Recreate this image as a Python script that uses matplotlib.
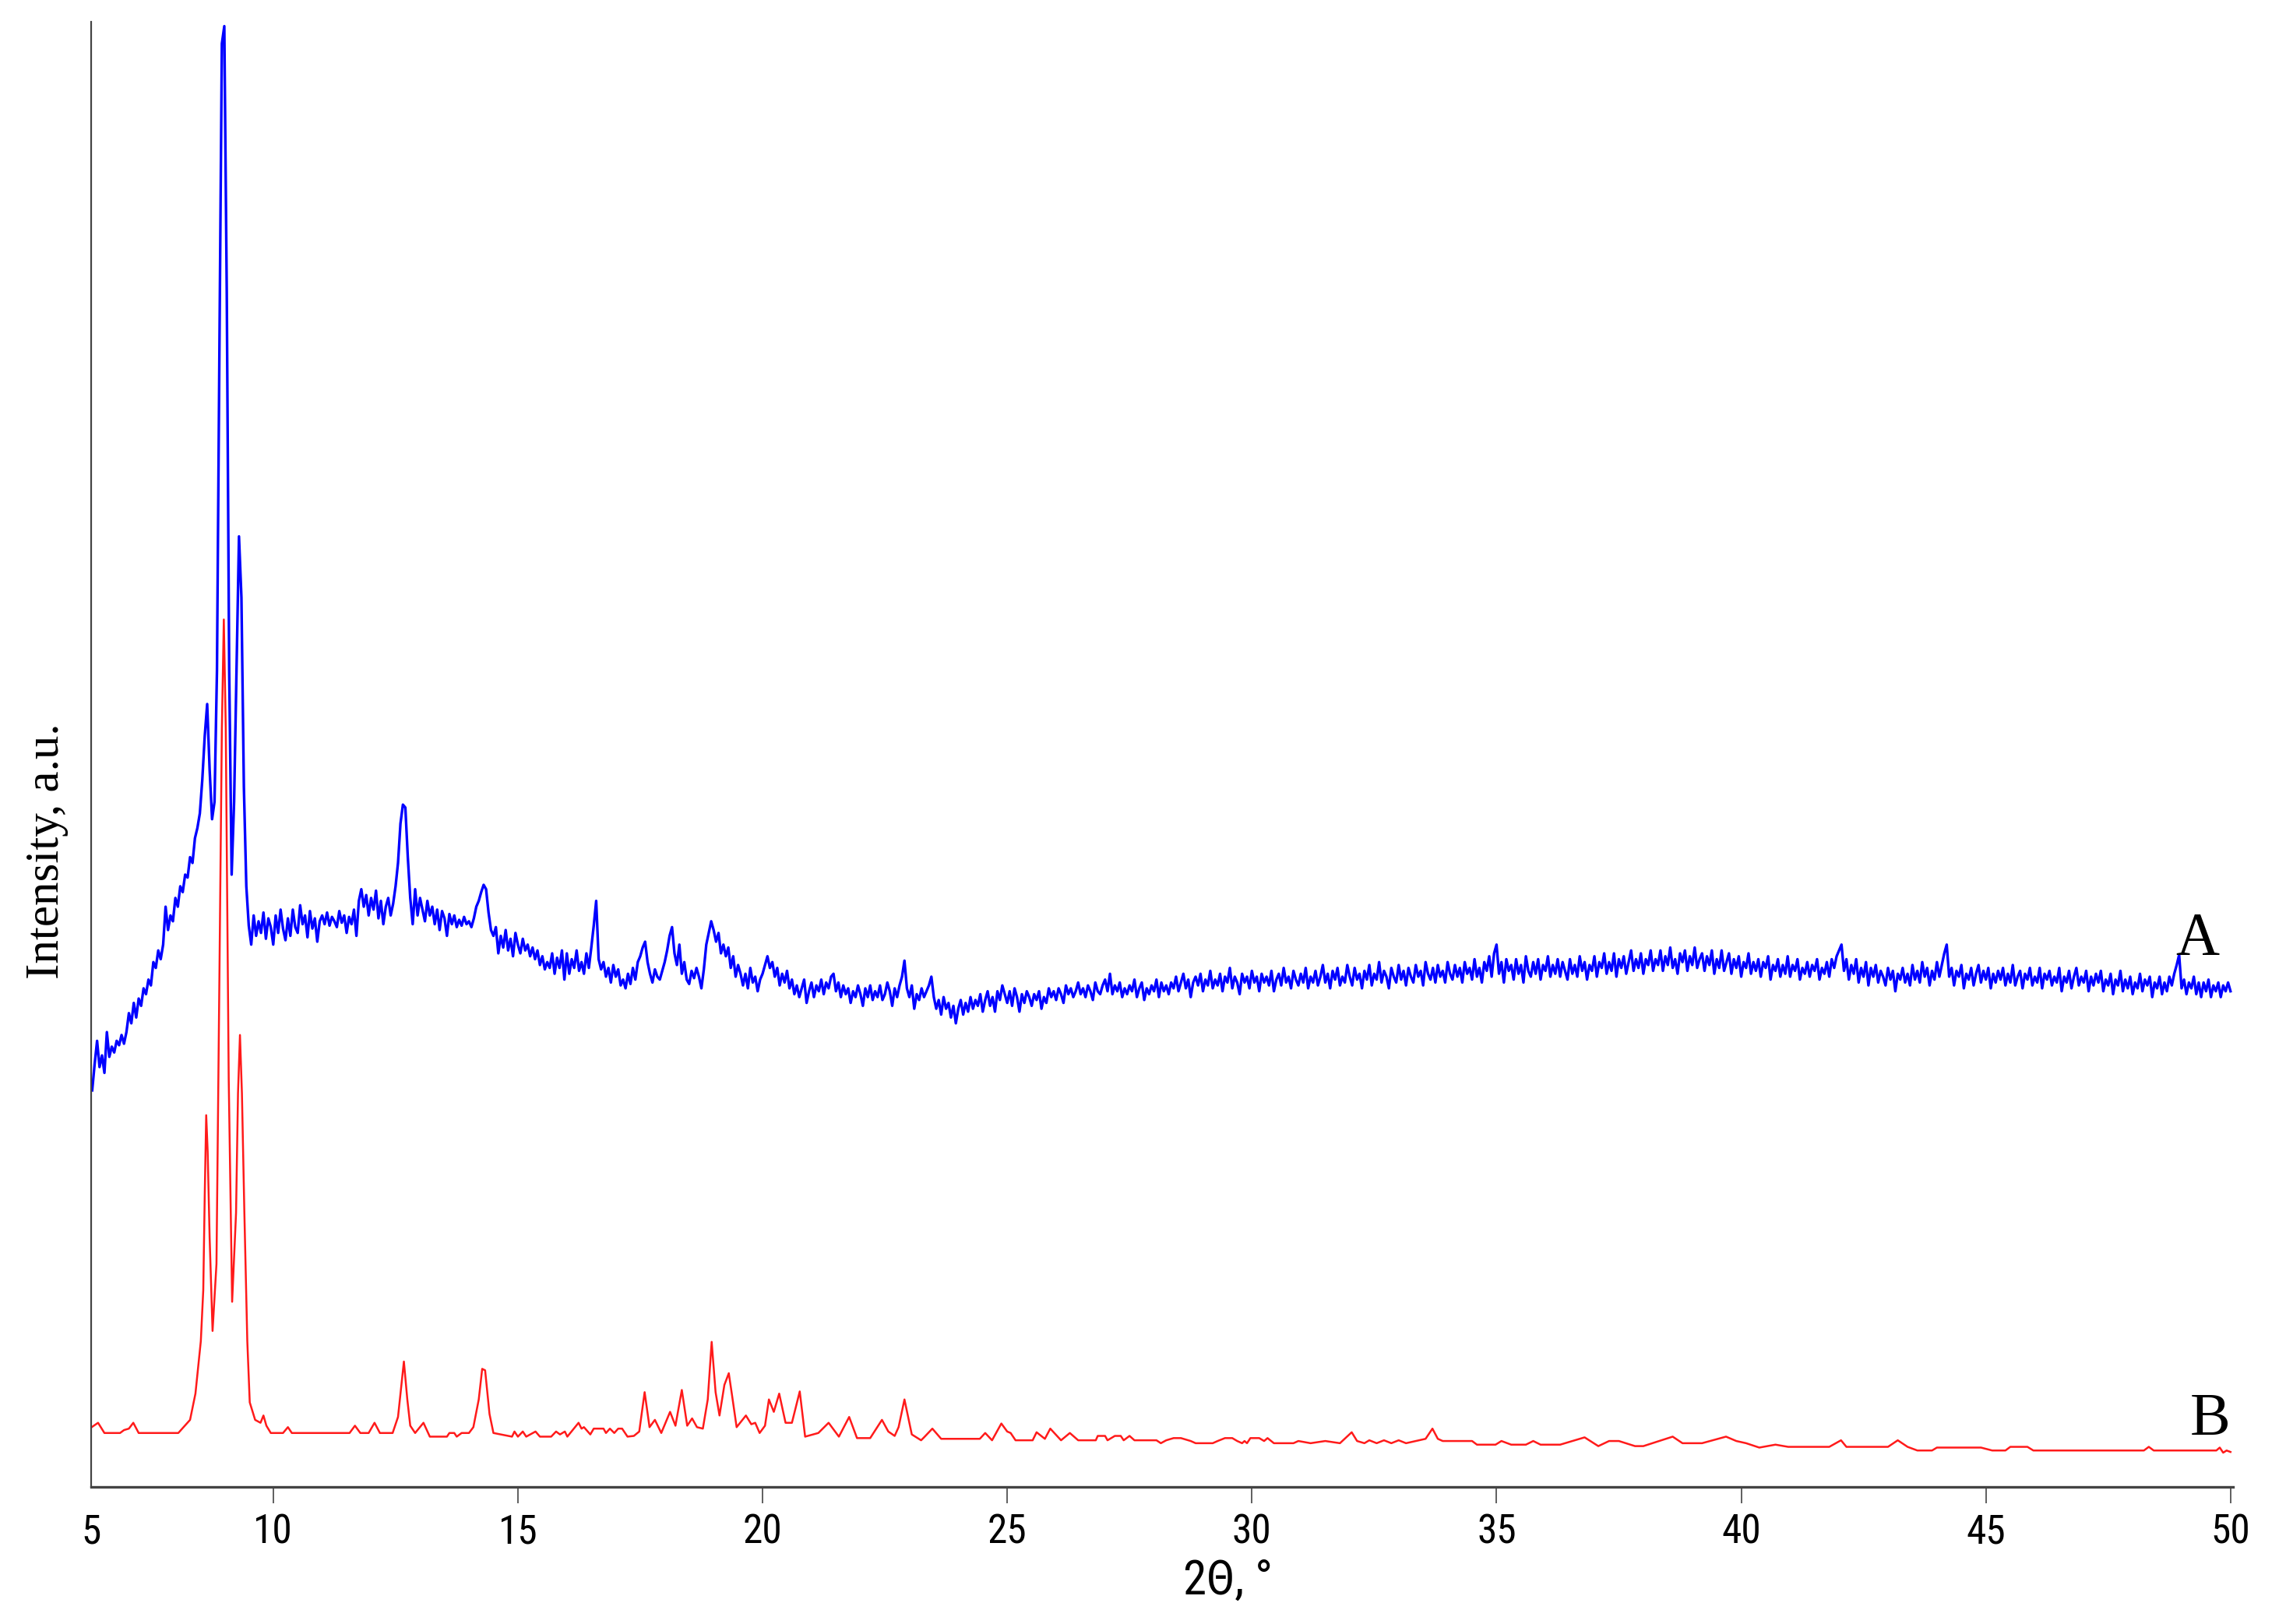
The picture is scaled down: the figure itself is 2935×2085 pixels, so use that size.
import matplotlib
matplotlib.use("Agg")
import matplotlib.pyplot as plt
from matplotlib import font_manager
import numpy as np

# pattern A (measured), sampled every 0.05 deg from 6.30 deg
blue_start = 6.30
blue_step = 0.05
blue_y = [
    272, 290, 306, 288, 296, 284, 312, 295, 302, 298, 306, 303, 310, 304, 312, 325, 318, 332, 322, 335,
    330, 342, 338, 348, 344, 360, 356, 368, 362, 372, 398, 382, 392, 388, 404, 398, 412, 408, 420, 418,
    432, 428, 445, 452, 462, 485, 515, 537, 492, 458, 470, 560, 780, 990, 1002, 820, 560, 420, 470, 560,
    652, 610, 480, 412, 385, 372, 392, 378, 388, 380, 394, 376, 390, 384, 372, 392, 380, 396, 383, 375,
    390, 378, 396, 384, 380, 399, 386, 392, 377, 395, 383, 390, 374, 388, 392, 386, 394, 385, 391, 388,
    384, 395, 387, 392, 380, 391, 386, 396, 378, 402, 410, 398, 406, 392, 404, 396, 409, 390, 402, 386,
    398, 404, 392, 400, 412, 428, 455, 468, 466, 432, 404, 386, 410, 392, 404, 396, 388, 402, 392, 398,
    386, 396, 382, 395, 390, 378, 393, 386, 392, 384, 389, 385, 391, 386, 388, 384, 390, 398, 402, 408,
    413, 410, 394, 382, 378, 384, 366, 378, 370, 382, 368, 376, 364, 380, 372, 366, 376, 368, 372, 364,
    370, 362, 368, 358, 364, 355, 360, 356, 366, 352, 363, 356, 368, 348, 366, 352, 362, 356, 368, 354,
    360, 352, 366, 356, 370, 385, 402, 362, 355, 360, 350, 356, 346, 358, 350, 355, 344, 348, 342, 352,
    345, 356, 348, 360, 364, 370, 374, 360, 352, 346, 355, 350, 348, 354, 360, 368, 378, 384, 366, 358,
    372, 352, 360, 348, 345, 354, 349, 356, 350, 342, 355, 372, 380, 388, 382, 374, 380, 366, 372, 364,
    370, 356, 364, 350, 358, 352, 344, 352, 342, 356, 346, 350, 340, 348, 352, 358, 364, 356, 360, 350,
    356, 344, 352, 346, 354, 342, 348, 338, 344, 336, 342, 348, 332, 340, 346, 336, 344, 340, 348, 338,
    346, 342, 350, 352, 340, 346, 336, 344, 338, 342, 332, 340, 336, 344, 338, 330, 342, 336, 344, 334,
    340, 336, 344, 334, 338, 346, 340, 330, 342, 336, 344, 350, 361, 342, 336, 344, 328, 338, 334, 342,
    336, 340, 344, 350, 336, 328, 334, 324, 336, 328, 332, 322, 330, 318, 328, 334, 324, 332, 326, 336,
    328, 334, 330, 338, 326, 334, 340, 330, 336, 326, 340, 334, 344, 338, 332, 340, 330, 342, 336, 326,
    338, 332, 340, 336, 330, 338, 334, 340, 328, 336, 332, 342, 336, 340, 334, 342, 338, 332, 344, 338,
    342, 336, 340, 346, 338, 342, 336, 344, 340, 334, 346, 340, 338, 344, 348, 340, 352, 338, 344, 340,
    346, 336, 342, 338, 344, 340, 348, 336, 342, 346, 334, 342, 338, 344, 340, 348, 336, 346, 340, 344,
    338, 346, 342, 350, 340, 346, 352, 342, 348, 336, 346, 350, 344, 352, 340, 348, 344, 354, 342, 348,
    344, 352, 340, 350, 346, 356, 342, 350, 346, 338, 352, 346, 350, 342, 354, 346, 350, 340, 352, 346,
    350, 344, 354, 340, 348, 352, 344, 356, 346, 350, 342, 354, 348, 344, 352, 346, 356, 342, 350, 346,
    354, 344, 350, 358, 346, 352, 342, 354, 348, 356, 344, 350, 346, 358, 350, 344, 356, 348, 352, 342,
    354, 348, 358, 344, 352, 348, 360, 346, 354, 350, 342, 356, 350, 346, 358, 348, 354, 344, 356, 350,
    346, 358, 350, 354, 344, 360, 352, 348, 356, 346, 358, 350, 354, 346, 360, 352, 348, 358, 350, 356,
    346, 360, 352, 356, 348, 362, 350, 356, 346, 360, 354, 364, 350, 366, 372, 352, 360, 346, 362, 354,
    358, 348, 362, 352, 358, 346, 364, 354, 350, 360, 352, 362, 348, 358, 354, 364, 350, 358, 352, 362,
    350, 360, 354, 348, 362, 352, 358, 350, 364, 354, 360, 348, 358, 354, 364, 350, 360, 356, 366, 352,
    360, 354, 366, 350, 362, 356, 364, 352, 360, 368, 354, 362, 356, 366, 352, 362, 358, 368, 354, 362,
    358, 368, 354, 364, 358, 370, 356, 362, 352, 366, 360, 368, 354, 364, 358, 370, 356, 362, 366, 354,
    364, 358, 368, 352, 362, 356, 368, 354, 360, 366, 352, 362, 356, 364, 350, 360, 356, 366, 352, 360,
    354, 362, 350, 360, 356, 364, 348, 358, 354, 362, 350, 358, 352, 364, 350, 358, 354, 362, 348, 356,
    352, 360, 350, 358, 354, 362, 348, 356, 352, 360, 350, 362, 356, 364, 368, 372, 354, 362, 348, 358,
    352, 362, 346, 356, 350, 360, 344, 356, 350, 358, 346, 354, 350, 344, 356, 348, 354, 340, 352, 348,
    356, 346, 352, 344, 358, 348, 354, 346, 360, 350, 356, 344, 354, 348, 360, 350, 358, 366, 372, 350,
    356, 344, 354, 350, 358, 342, 352, 348, 356, 344, 352, 358, 346, 354, 348, 356, 342, 352, 346, 354,
    348, 356, 344, 352, 346, 358, 344, 350, 354, 342, 352, 348, 356, 344, 350, 346, 356, 342, 352, 348,
    354, 344, 350, 346, 356, 340, 350, 346, 354, 342, 350, 356, 344, 350, 346, 354, 340, 350, 344, 352,
    346, 354, 340, 348, 344, 352, 338, 348, 344, 354, 340, 348, 342, 350, 338, 346, 342, 352, 340, 348,
    344, 350, 336, 346, 342, 350, 338, 346, 340, 350, 344, 352, 358, 365, 342, 348, 338, 346, 342, 350,
    338, 346, 336, 346, 340, 348, 336, 344, 340, 346, 336, 344, 340, 346, 340,
]
blue_x = blue_start + blue_step * np.arange(len(blue_y))

# pattern B (calculated)
red_x = [
    6.29, 6.42, 6.55, 6.87, 6.95, 7.05, 7.14, 7.25, 8.06, 8.14, 8.30, 8.41, 8.52, 8.57, 8.60, 8.63,
    8.66, 8.70, 8.76, 8.84, 8.90, 8.95, 8.99, 9.03, 9.09, 9.16, 9.24, 9.28, 9.32, 9.36, 9.41, 9.47,
    9.52, 9.63, 9.74, 9.80, 9.86, 9.95, 10.2, 10.3, 10.38, 11.56, 11.67, 11.78, 11.95, 12.07, 12.18,
    12.44, 12.55, 12.67, 12.74, 12.8, 12.9, 13.07, 13.2, 13.55, 13.6, 13.7, 13.75, 13.85, 14.0, 14.09,
    14.2, 14.27, 14.33, 14.42, 14.5, 14.88, 14.93, 15.0, 15.1, 15.17, 15.36, 15.45, 15.68, 15.78,
    15.86, 15.96, 16.01, 16.24, 16.3, 16.35, 16.48, 16.55, 16.75, 16.8, 16.88, 16.97, 17.05, 17.13,
    17.24, 17.37, 17.48, 17.59, 17.69, 17.8, 17.93, 18.11, 18.22, 18.35, 18.46, 18.56, 18.66, 18.78,
    18.88, 18.96, 19.04, 19.12, 19.22, 19.31, 19.38, 19.47, 19.66, 19.77, 19.85, 19.94, 20.05, 20.13,
    20.23, 20.34, 20.47, 20.6, 20.76, 20.87, 21.14, 21.35, 21.56, 21.77, 21.93, 22.2, 22.44, 22.57,
    22.7, 22.78, 22.9, 23.05, 23.24, 23.3, 23.47, 23.65, 24.44, 24.55, 24.69, 24.88, 25.0, 25.07,
    25.17, 25.52, 25.6, 25.77, 25.88, 26.1, 26.28, 26.45, 26.81, 26.85, 27.0, 27.05, 27.2, 27.32,
    27.38, 27.5, 27.6, 28.05, 28.14, 28.25, 28.4, 28.55, 28.75, 28.85, 29.2, 29.3, 29.45, 29.6, 29.7,
    29.8, 29.85, 29.9, 29.97, 30.15, 30.25, 30.32, 30.45, 30.85, 30.95, 31.2, 31.5, 31.8, 32.04,
    32.15, 32.3, 32.4, 32.55, 32.7, 32.85, 33.0, 33.15, 33.35, 33.55, 33.69, 33.8, 33.9, 34.5, 34.6,
    34.98, 35.1, 35.3, 35.6, 35.75, 35.9, 36.3, 36.5, 36.8, 37.08, 37.3, 37.5, 37.83, 38.0, 38.6,
    38.8, 39.2, 39.69, 39.9, 40.1, 40.37, 40.7, 40.96, 41.8, 42.04, 42.15, 43.0, 43.2, 43.4, 43.6,
    43.9, 44.0, 44.9, 45.13, 45.4, 45.5, 45.85, 45.97, 48.23, 48.33, 48.43, 49.71, 49.78, 49.85,
    49.92, 50.0,
]
red_y = [
    41, 44, 37, 37, 39, 40, 44, 37, 37, 40, 46, 64, 100, 135, 200, 255,
    230, 171, 107, 153, 350, 520, 595, 520, 280, 127, 188, 270, 310, 270, 188, 100,
    58, 46, 44, 49, 42, 37, 37, 41, 37, 37, 42, 37, 37, 44, 37,
    37, 48, 86, 60, 42, 37, 44, 34.5, 34.5, 37, 37, 34.5, 37, 37, 41,
    60, 81, 80, 50, 37, 34.5, 38, 34.5, 38, 34.5, 38, 34.5, 34.5, 38,
    36, 38, 34.5, 44, 40, 41, 36, 40, 40, 37, 40, 37, 40, 40,
    34.5, 35, 38, 65, 41, 46, 37, 51.5, 42, 66.5, 42, 47, 41, 40,
    60, 99.5, 65, 49, 70, 78, 62, 41, 49, 43, 44, 37, 42, 60,
    51.5, 64, 44, 44, 65.5, 34.5, 37, 44, 34.5, 48, 33.5, 33.5, 46, 38,
    35, 41, 60, 36, 32, 34, 40, 33, 33, 37, 32, 43.5, 38, 37,
    32, 32, 37.5, 33, 40, 32, 37, 32, 32, 35, 35, 32, 35, 35,
    32, 35, 32, 32, 30, 32, 33.5, 33.5, 31.5, 30, 30, 31.5, 33.5, 33.5, 31.5,
    30, 31.5, 30, 33.5, 33.5, 31.5, 33.5, 30, 30, 31.5, 30, 31.5, 30, 37.5,
    31.5, 30, 32, 30, 32, 30, 32, 30, 31.5, 33, 40, 33, 31.5, 31.5, 29,
    29, 31.5, 29, 29, 31.5, 29, 29, 31, 34, 28, 31.5, 31.5, 28, 28, 34.5,
    30, 30, 34.5, 31.5, 30, 27, 29, 27.5, 27.5, 32, 27.5, 27.5, 32, 27.5, 25,
    25, 27, 27, 25, 25, 27.5, 27.5, 25, 25, 27.5, 25, 25, 27, 23.5,
    25, 24,
]

tick_pos = [10, 15, 20, 25, 30, 35, 40, 45, 50]
tick_lab = ["10", "15", "20", "25", "30", "35", "40", "45", "50"]
x_min, x_max = 6.28, 50.05


def pick_font(names):
    have = {f.name for f in font_manager.fontManager.ttflist}
    for n in names:
        if n in have:
            return n
    return "DejaVu Sans"


narrow = pick_font(["Liberation Sans Narrow", "Roboto Condensed", "DejaVu Sans"])
serif = pick_font(["Liberation Serif", "DejaVu Serif"])

fig = plt.figure(figsize=(29.35, 20.85), dpi=100)
ax = fig.add_axes([0.0399, 0.0844, 0.9369, 0.9022])

ax.plot(blue_x, blue_y, color="#0000ff", lw=2.4)
ax.plot(red_x, red_y, color="#ff1a1a", lw=1.8)

ax.set_xlim(x_min, x_max)
ax.set_ylim(0, 1005)

ax.spines["top"].set_visible(False)
ax.spines["right"].set_visible(False)
ax.spines["left"].set_color("#444444")
ax.spines["left"].set_linewidth(1.6)
ax.spines["bottom"].set_color("#444444")
ax.spines["bottom"].set_linewidth(2.4)

ax.set_yticks([])
ax.set_xticks([x_min] + tick_pos)
ax.set_xticklabels(["5"] + tick_lab, fontsize=37, family=narrow)
ax.tick_params(axis="x", length=15, width=1.2, color="#444444", pad=9)
ax.xaxis.get_major_ticks()[0].tick1line.set_visible(False)

fig.text(1577 / 2935, 1 - 2030 / 2085, "2\u0398, \u00b0", fontsize=44, family=narrow,
         ha="center", va="center")
fig.text(60 / 2935, 1 - 1093 / 2085, "Intensity, a.u.", fontsize=44, family=serif,
         rotation=90, ha="center", va="center")
fig.text(2821 / 2935, 1 - 1206 / 2085, "A", fontsize=56, family=serif, ha="center", va="center")
fig.text(2838 / 2935, 1 - 1823 / 2085, "B", fontsize=56, family=serif, ha="center", va="center")

fig.savefig("out.png", dpi=100)
